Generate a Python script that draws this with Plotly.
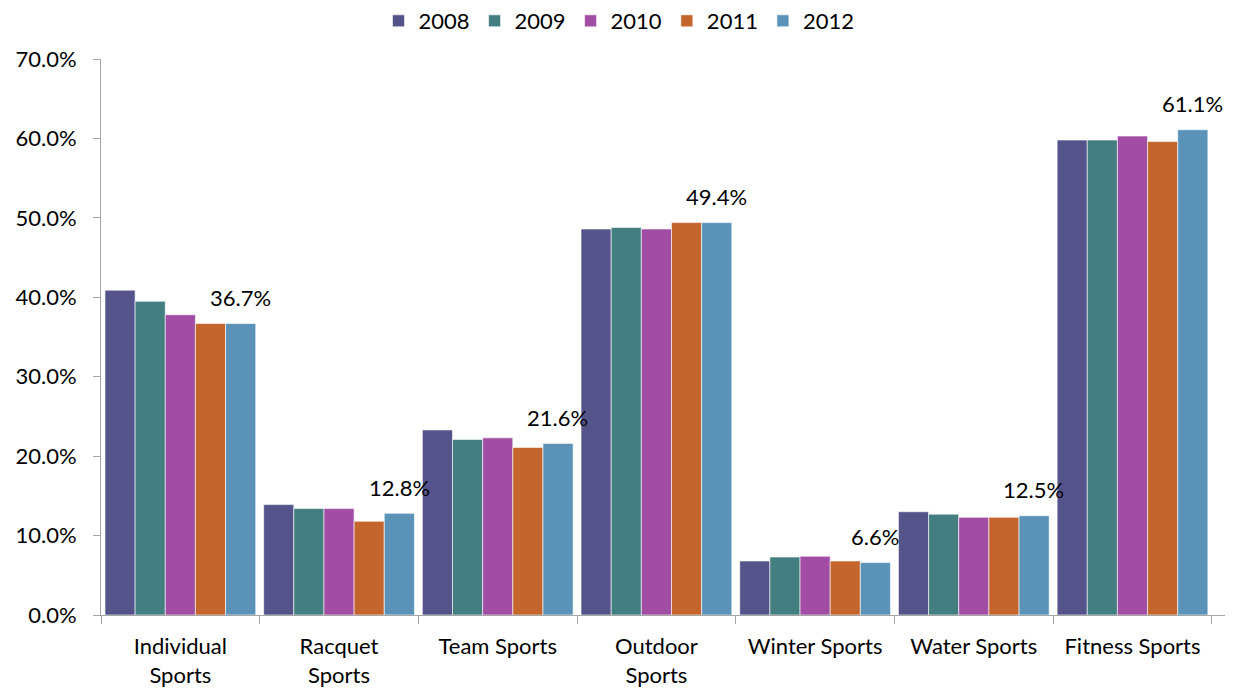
import plotly.graph_objects as go

categories = ["Individual<br>Sports", "Racquet<br>Sports", "Team Sports", "Outdoor<br>Sports",
              "Winter Sports", "Water Sports", "Fitness Sports"]
years = ["2008", "2009", "2010", "2011", "2012"]

v2008 = [40.9, 13.9, 23.3, 48.6, 6.8, 13.0, 59.8]
v2009 = [39.5, 13.4, 22.1, 48.8, 7.3, 12.7, 59.8]
v2010 = [37.8, 13.4, 22.3, 48.6, 7.4, 12.3, 60.3]
v2011 = [36.7, 11.8, 21.1, 49.4, 6.8, 12.3, 59.6]
v2012 = [36.7, 12.8, 21.6, 49.4, 6.6, 12.5, 61.1]

series = [v2008, v2009, v2010, v2011, v2012]
colors = ["#55548A", "#437E80", "#A04DA3", "#C4652D", "#5B93B8"]

FONT = "Lato, Open Sans, sans-serif"
FS = 22

fig = go.Figure()
for name, vals, col in zip(years, series, colors):
    fig.add_trace(go.Bar(
        x=categories, y=vals, name=name,
        marker=dict(color=col, line=dict(color="rgba(255,255,255,0.6)", width=1)),
    ))

# value labels above the latest-year bars
for cat, val in zip(categories, v2012):
    fig.add_annotation(
        x=cat, y=val, xref="x", yref="y",
        text=f"{val:.1f}%", showarrow=False,
        xshift=60, yshift=26,
        font=dict(family=FONT, size=FS, color="#000000"),
    )

fig.update_layout(
    barmode="group",
    bargap=0.05,
    bargroupgap=0,
    width=1238, height=695,
    margin=dict(l=101, r=13, t=59, b=80, autoexpand=False),
    paper_bgcolor="white", plot_bgcolor="white",
    font=dict(family=FONT, size=FS, color="#000000"),
    legend=dict(orientation="h", x=0.5, xanchor="center", xref="container",
                y=1.0, yanchor="top", yref="container",
                font=dict(size=FS), itemwidth=30, traceorder="normal"),
    showlegend=True,
)

fig.update_yaxes(
    range=[0, 70], dtick=10, tickformat=".1f", ticksuffix="%",
    showgrid=False, showline=True, linecolor="#A6A6A6", linewidth=1,
    ticks="outside", ticklen=7, tickcolor="#A6A6A6", ticklabelstandoff=12,
    zeroline=False, tickfont=dict(size=FS),
)
fig.update_xaxes(
    showgrid=False, showline=True, linecolor="#A6A6A6", linewidth=1,
    ticks="outside", ticklen=8, tickcolor="#A6A6A6", tickson="boundaries",
    ticklabelstandoff=12, tickfont=dict(size=FS), tickangle=0,
)

fig.write_html("out.html")
